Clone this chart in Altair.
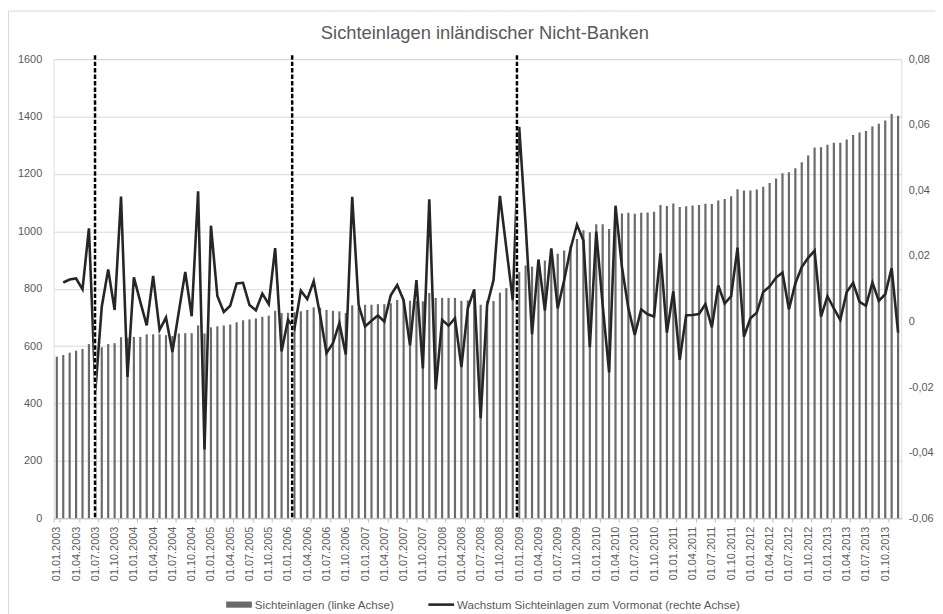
import altair as alt
import pandas as pd

FONT = "Liberation Sans, Arial, sans-serif"
TEXT = "#595959"

title_text = "Sichteinlagen inländischer Nicht-Banken"
bar_label = "Sichteinlagen (linke Achse)"
line_label = "Wachstum Sichteinlagen zum Vormonat (rechte Achse)"

# category labels: first day of every month, Jan 2003 .. Dec 2013
months = [f"01.{m:02d}.{y}" for y in range(2003, 2014) for m in range(1, 13)]

# monthly deposits (left axis)
deposits = [
    563, 569, 577, 584, 590, 607, 601, 596, 607, 610, 631, 629,
    632, 632, 641, 641, 641, 638, 635, 644, 645, 645, 672, 644,
    665, 669, 672, 675, 683, 690, 693, 696, 702, 706, 723, 715,
    716, 718, 721, 726, 735, 734, 726, 723, 721, 715, 742, 735,
    744, 744, 746, 746, 749, 761, 761, 758, 757, 756, 785, 768,
    768, 768, 768, 758, 759, 771, 744, 758, 757, 786, 802, 815,
    858, 881, 877, 900, 898, 913, 922, 933, 950, 973, 1004, 997,
    1025, 1025, 1008, 1040, 1062, 1065, 1061, 1065, 1066, 1068, 1092, 1088,
    1097, 1085, 1087, 1090, 1092, 1096, 1095, 1107, 1113, 1122, 1147, 1142,
    1142, 1146, 1155, 1168, 1184, 1202, 1206, 1220, 1241, 1264, 1292, 1293,
    1302, 1309, 1309, 1320, 1336, 1344, 1350, 1365, 1375, 1386, 1409, 1403,
]

# month-on-month growth (right axis)
growth = [
    None, 0.0119, 0.0128, 0.0131, 0.0098, 0.0284, -0.0212, 0.0045, 0.0159, 0.0035, 0.0381, -0.0169,
    0.0135, 0.0060, -0.0012, 0.0139, -0.0026, 0.0012, -0.0093, 0.0030, 0.0151, 0.0016, 0.0397, -0.0390,
    0.0292, 0.0078, 0.0029, 0.0048, 0.0116, 0.0118, 0.0050, 0.0034, 0.0085, 0.0053, 0.0224, -0.0091,
    0.0005, -0.0022, 0.0094, 0.0068, 0.0123, 0.0020, -0.0096, -0.0066, -0.0005, -0.0101, 0.0380, 0.0050,
    -0.0015, 0.0002, 0.0018, 0.0000, 0.0080, 0.0111, 0.0065, -0.0073, 0.0126, -0.0143, 0.0373, -0.0207,
    0.0005, -0.0013, 0.0010, -0.0139, 0.0040, 0.0098, -0.0295, 0.0050, 0.0126, 0.0383, 0.0224, 0.0065,
    0.0594, 0.0297, -0.0039, 0.0189, 0.0033, 0.0223, 0.0040, 0.0126, 0.0222, 0.0295, 0.0247, -0.0078,
    0.0274, 0.0050, -0.0155, 0.0353, 0.0166, 0.0040, -0.0041, 0.0037, 0.0022, 0.0015, 0.0208, -0.0034,
    0.0092, -0.0117, 0.0019, 0.0020, 0.0023, 0.0053, -0.0018, 0.0110, 0.0055, 0.0077, 0.0225, -0.0046,
    0.0010, 0.0027, 0.0090, 0.0107, 0.0134, 0.0149, 0.0037, 0.0116, 0.0166, 0.0194, 0.0216, 0.0015,
    0.0077, 0.0040, 0.0005, 0.0090, 0.0118, 0.0060, 0.0048, 0.0119, 0.0063, 0.0083, 0.0163, -0.0034,
]

x_tick_labels = [
    "01.01.2003", "01.04.2003", "01.07.2003", "01.10.2003",
    "01.01.2004", "01.04.2004", "01.07.2004", "01.10.2004",
    "01.01.2005", "01.04.2005", "01.07.2005", "01.10.2005",
    "01.01.2006", "01.04.2006", "01.07.2006", "01.10.2006",
    "01.01.2007", "01.04.2007", "01.07.2007", "01.10.2007",
    "01.01.2008", "01.04.2008", "01.07.2008", "01.10.2008",
    "01.01.2009", "01.04.2009", "01.07.2009", "01.10.2009",
    "01.01.2010", "01.04.2010", "01.07.2010", "01.10.2010",
    "01.01.2011", "01.04.2011", "01.07.2011", "01.10.2011",
    "01.01.2012", "01.04.2012", "01.07.2012", "01.10.2012",
    "01.01.2013", "01.04.2013", "01.07.2013", "01.10.2013",
]
left_ticks = [0, 200, 400, 600, 800, 1000, 1200, 1400, 1600]
right_ticks = [-0.06, -0.04, -0.02, 0.0, 0.02, 0.04, 0.06, 0.08]
right_tick_labels = ["-0,06", "-0,04", "-0,02", "0", "0,02", "0,04", "0,06", "0,08"]

# positions (in months since Jan 2003) of the dashed marker lines
event_positions = [5.95, 36.65, 71.65]

W, H = 855, 463

df_bars = pd.DataFrame({"month": months, "v": deposits})
df_line = pd.DataFrame({"month": months, "g": growth})
df_rules = pd.DataFrame({"pos": event_positions})
df_legend = pd.DataFrame({"series": [bar_label, line_label]})
df_title = pd.DataFrame({"t": [title_text]})

band = alt.Scale(domain=months, paddingInner=0, paddingOuter=0)

x_axis = alt.Axis(
    values=x_tick_labels, tickBand="extent",
    labelAngle=-90, labelAlign="right", labelBaseline="middle",
    labelPadding=4, tickSize=4,
    tickColor="#bfbfbf", domainColor="#bfbfbf", grid=False, title=None,
    labelFontSize=11, labelColor=TEXT, labelFont=FONT, labelOverlap=False,
)

border = alt.Chart(pd.DataFrame({"a": [0]})).mark_rect(
    fillOpacity=0, stroke="#d9d9d9", strokeWidth=1
).encode(
    x=alt.value(-45.5), x2=alt.value(920), y=alt.value(-48.5), y2=alt.value(700)
)

title = alt.Chart(df_title).mark_text(
    font=FONT, fontSize=18.5, color=TEXT, baseline="alphabetic", align="center"
).encode(text="t:N", x=alt.value(435), y=alt.value(-20))

bars = alt.Chart(df_bars).mark_bar(color="#6a6a6a", size=2.2).encode(
    x=alt.X("month:O", scale=band, axis=x_axis),
    y=alt.Y("v:Q", scale=alt.Scale(domain=[0, 1600], nice=False, zero=True),
            axis=alt.Axis(values=left_ticks, format="d", grid=True, gridColor="#d9d9d9",
                          domain=False, ticks=False, labelPadding=12, title=None,
                          labelFontSize=11, labelColor=TEXT, labelFont=FONT)),
)

shape_paths = ["M-1,-0.24H1V0.24H-1Z", "M-1,-0.1H1V0.1H-1Z"]
legend = alt.Legend(
    orient="none", legendX=174, legendY=537, direction="horizontal", title=None,
    symbolSize=676, symbolStrokeWidth=0, labelFontSize=11.7, labelColor=TEXT,
    labelFont=FONT, labelOffset=3, columnPadding=34, padding=0, labelLimit=600,
)
points = alt.Chart(df_legend).mark_point(filled=True, opacity=1).encode(
    x=alt.value(0), y=alt.value(2000),
    color=alt.Color("series:N", scale=alt.Scale(domain=[bar_label, line_label],
                                                range=["#6a6a6a", "#262626"]), legend=legend),
    shape=alt.Shape("series:N", scale=alt.Scale(domain=[bar_label, line_label],
                                                range=shape_paths), legend=legend),
)

line = alt.Chart(df_line).mark_line(color="#262626", strokeWidth=2.6).encode(
    x=alt.X("month:O", scale=band, axis=None),
    y=alt.Y("g:Q", scale=alt.Scale(domain=[-0.06, 0.08], nice=False, zero=False),
            axis=alt.Axis(orient="right", values=right_ticks,
                          labelExpr="[" + ",".join(f"'{s}'" for s in right_tick_labels)
                                    + "][round((datum.value + 0.06) / 0.02)]",
                          grid=False, domain=False, ticks=False, labelPadding=7, title=None,
                          labelFontSize=11, labelColor=TEXT, labelFont=FONT)),
)

rule_scale = alt.Scale(domain=[-0.5, len(months) - 0.5], nice=False, zero=False)
rule_under = alt.Chart(df_rules).mark_rule(color="white", strokeWidth=2.5).encode(
    x=alt.X("pos:Q", scale=rule_scale, axis=None), y=alt.value(-4), y2=alt.value(H)
)
rule_dash = alt.Chart(df_rules).mark_rule(color="black", strokeWidth=2.5, strokeDash=[4.5, 2]).encode(
    x=alt.X("pos:Q", scale=rule_scale, axis=None), y=alt.value(-4), y2=alt.value(H)
)
rules = alt.layer(rule_under, rule_dash)

chart = alt.layer(bars, line, rules, points, border, title).resolve_scale(
    x="independent", y="independent"
).properties(
    width=W, height=H,
    padding={"left": 46, "top": 49, "right": 34, "bottom": 94},
    autosize=alt.AutoSizeParams(type="none"),
).configure_view(stroke=None).configure(background="white")

chart.save("out.html", embed_options={"renderer": "svg", "actions": False})
